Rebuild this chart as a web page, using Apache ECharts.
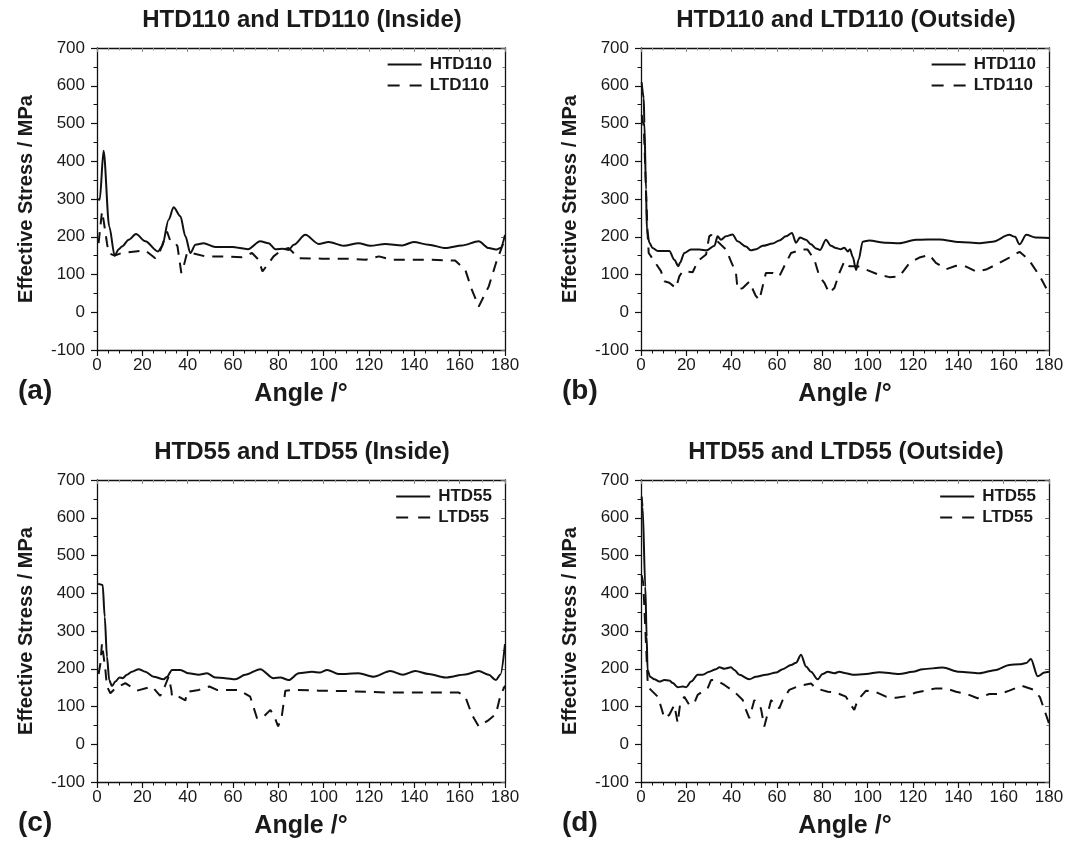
<!DOCTYPE html>
<html>
<head>
<meta charset="utf-8">
<script src="https://cdn.jsdelivr.net/npm/echarts@6/dist/echarts.min.js"></script>
<style>
html,body{margin:0;padding:0;background:#fff;}
#chart{width:1069px;height:854px;}
</style>
</head>
<body>
<div id="chart"></div>
<script>
// ---- Data: [angle (deg), effective stress (MPa)] ----
var panelTitles = ['HTD110 and LTD110 (Inside)', 'HTD110 and LTD110 (Outside)', 'HTD55 and LTD55 (Inside)', 'HTD55 and LTD55 (Outside)'];
var panelLetters = ['(a)', '(b)', '(c)', '(d)'];
var seriesNames = [['HTD110', 'LTD110'], ['HTD110', 'LTD110'], ['HTD55', 'LTD55'], ['HTD55', 'LTD55']];
var xTicks = {min: 0, max: 180, step: 20};
var yTicks = {min: -100, max: 700, step: 100};

var htd110In = [[0,300],[1.2,298],[2.9,428],[5.4,227],[7.8,150],[9.6,167],[11,174],[14,192],[17.2,207],[21.3,188],[26.9,161],[28.7,174],[31.6,245],[33.8,278],[36.8,254],[39,201],[41.2,157],[43.4,179],[47,183],[52.2,173],[59.6,173],[66.6,167],[72,188],[75.7,183],[78.7,167],[82,168],[84.6,165],[86.8,179],[91.9,205],[97.8,181],[102.2,186],[108.8,176],[115.4,183],[120.6,176],[127.2,181],[134.6,177],[139.7,186],[146.3,179],[153.7,170],[161,177],[168.4,188],[172.8,170],[176,166],[178,170],[180,205]];
var ltd110In = [[0.7,183],[2.2,267],[3,240],[4.4,183],[5.1,157],[7.8,150],[11,157],[16.9,161],[21.3,164],[25.7,143],[28,165],[30.9,214],[32.4,188],[34.6,183],[35.5,175],[37.2,104],[38.2,121],[39.7,157],[41.2,158],[47.8,148],[55.1,148],[64,146],[68.4,157],[71.3,139],[73,108],[75.7,130],[77.9,148],[81.6,165],[84.6,170],[89,143],[99.3,142],[109.6,142],[118.5,139],[124.4,148],[130,139],[138.9,139],[147.8,139],[158,137],[162.5,112],[165.4,59],[168.4,15],[172.8,68],[176,130],[180,195]];
var htd110Out = [[0.3,609],[1.2,567],[1.5,501],[2.2,325],[2.6,219],[3.7,184],[5.1,170],[7.4,162],[12.5,162],[14.7,139],[16.5,122],[17.2,131],[19.1,157],[22,166],[25.7,166],[29,164],[32.4,176],[33.8,201],[35.3,192],[37.5,201],[40.4,206],[42.6,188],[46.3,174],[48.5,164],[50.7,167],[53.7,176],[58.1,182],[61,190],[63.9,201],[66.6,210],[68.4,184],[70.1,198],[72.8,192],[75,180],[77.2,169],[79,165],[81.6,192],[83.8,176],[86,170],[88.2,167],[89.7,171],[91.2,161],[92.2,167],[93.4,147],[94.9,112],[96,139],[97.8,187],[100.7,190],[108.1,184],[114,183],[121.3,192],[131.6,193],[140.4,186],[149.3,183],[155.1,187],[162.5,205],[165,200],[167,180],[170,205],[174,198],[180,197]];
var ltd110Out = [[0.3,523],[1.2,493],[1.6,431],[2.2,325],[2.9,210],[3.4,157],[5.9,135],[8.8,109],[10.3,82],[12.5,78],[15.4,64],[16.9,95],[18.4,109],[22.8,106],[25,135],[28.7,153],[30.1,201],[31,205],[33,192],[37.5,166],[39.7,135],[41.9,104],[42.6,60],[44.9,64],[47.8,81],[50.5,45],[52.2,32],[55.1,104],[58.1,104],[61,95],[63.2,122],[66.2,157],[68.4,161],[71,166],[73.5,166],[76.5,139],[78.7,95],[80.9,78],[83,51],[85.3,64],[87.5,104],[89.7,135],[91.9,122],[95.6,122],[99.3,113],[105.1,99],[109.6,93],[114,95],[118.4,130],[122.8,145],[127.2,152],[130.1,131],[134.6,114],[139,123],[143.4,121],[147.8,108],[152.2,113],[156.6,126],[162.5,145],[167,160],[171,140],[176,95],[180,50]];
var htd55In = [[0.5,425],[1.2,424],[2.5,422],[3.4,338],[4.4,232],[5.4,170],[6.6,154],[8.1,166],[9.9,177],[11.3,175],[13.2,184],[15.4,192],[18.4,199],[21.3,192],[25,179],[29.4,172],[30.9,179],[33.1,197],[36.8,197],[40.4,188],[44.9,184],[48.5,188],[52.2,177],[56.6,175],[61,172],[65.4,184],[72,199],[77.9,175],[80.9,177],[84.6,170],[89,188],[94.9,192],[98.5,190],[101.5,197],[106.6,186],[115.4,188],[122,179],[129.4,194],[134.9,184],[140.4,194],[146.3,186],[153.7,177],[162.5,185],[168.4,194],[172.8,184],[176,170],[178,185],[180,265]];
var ltd55In = [[0.7,186],[1.5,214],[2.2,267],[2.9,267],[3.7,197],[4.4,153],[5.9,135],[8.1,148],[12.5,162],[17.6,142],[24.3,153],[27.9,128],[29.9,153],[31.6,179],[32.8,144],[33.1,126],[36,126],[39,116],[39.7,139],[44.9,144],[49.6,153],[52.9,144],[62.5,144],[67.6,126],[70.6,69],[73,70],[76.5,91],[78.5,70],[79.9,47],[81.5,73],[83.1,142],[88.2,144],[97.8,142],[109.6,141],[118.4,139],[127.2,137],[138.9,137],[149.3,137],[159.6,137],[162.5,126],[165.4,78],[168.4,47],[172.8,64],[176,80],[178,130],[180,155]];
var htd55Out = [[0.3,656],[0.7,629],[1.9,417],[2.5,285],[2.9,197],[4,179],[5.9,172],[8.1,166],[10.3,170],[12.5,169],[14,162],[16.2,151],[18.4,153],[19.9,151],[22.1,166],[25,184],[27.2,184],[30.1,192],[33.1,199],[34.6,204],[36.8,200],[39.7,204],[41.2,197],[43.4,184],[47.8,172],[50.7,179],[55.1,184],[59.6,190],[62.5,199],[66.2,210],[68.4,216],[70.6,237],[72.8,206],[75,192],[77.9,172],[80.1,186],[82.4,192],[85.3,188],[87.5,192],[90.4,188],[93.4,184],[99.3,186],[105.1,191],[113.9,186],[119.9,192],[124.3,199],[133.1,203],[140.4,192],[149.3,188],[156.6,197],[162.5,210],[167,212],[170,215],[172,226],[175,180],[178,190],[180,192]];
var ltd55Out = [[0.3,448],[1,426],[2.2,267],[2.9,170],[3.7,148],[7.4,126],[8.8,100],[10.3,69],[12.5,78],[14.7,104],[16.2,56],[17.2,104],[19.1,126],[21.3,104],[23.5,109],[25,131],[29.4,148],[30.9,170],[33.1,170],[36.8,157],[41.2,139],[44.9,117],[46.3,91],[47.8,69],[50,117],[52.9,95],[54.4,47],[57.4,117],[61,95],[62.5,117],[65.4,144],[69.9,155],[75,161],[77.2,148],[82.4,139],[86,137],[90.4,126],[92.6,104],[94.1,91],[95.6,117],[99.3,142],[103.7,138],[108.1,126],[112.5,123],[116.9,127],[121.3,137],[130.1,148],[134.6,148],[139,139],[143.4,134],[148.5,122],[153.7,133],[158.1,133],[162.5,142],[168,155],[173,145],[176,125],[180,55]];

var panelData = [[htd110In, ltd110In], [htd110Out, ltd110Out], [htd55In, ltd55In], [htd55Out, ltd55Out]];

// ---- Layout ----
var W = 1069;
var FONT = 'Liberation Sans, Arial, Helvetica, sans-serif';
var TXT = '#1a1a1a';
var grids = [
  {left: 97, top: 48, width: 408, height: 302},
  {left: 641, top: 48, width: 408, height: 302},
  {left: 97, top: 480, width: 408, height: 302},
  {left: 641, top: 480, width: 408, height: 302}
];

var option = {
  backgroundColor: '#fff',
  animation: false,
  textStyle: {fontFamily: FONT},
  grid: [], xAxis: [], yAxis: [], series: [], title: [], legend: [], graphic: []
};

var axisLine = {show: true, onZero: false, lineStyle: {color: '#111', width: 1.3}};

grids.forEach(function (g, i) {
  option.grid.push({left: g.left, top: g.top, width: g.width, height: g.height, containLabel: false});
  option.xAxis.push({
    gridIndex: i, type: 'value', position: 'bottom',
    min: xTicks.min, max: xTicks.max, interval: xTicks.step,
    name: 'Angle /°', nameLocation: 'middle', nameGap: 32,
    nameTextStyle: {fontFamily: FONT, fontSize: 25, fontWeight: 'bold', color: TXT},
    axisLine: axisLine,
    axisTick: {show: true, inside: false, length: 6, lineStyle: {color: '#111', width: 1.2}},
    minorTick: {show: true, splitNumber: 4, length: 3.5, lineStyle: {color: '#111', width: 1}},
    axisLabel: {fontFamily: FONT, fontSize: 17, color: TXT, margin: 7},
    splitLine: {show: false}
  });
  option.xAxis.push({
    gridIndex: i, type: 'value', position: 'top',
    min: xTicks.min, max: xTicks.max, interval: xTicks.step,
    axisLine: axisLine,
    axisTick: {show: true, inside: true, length: 4, lineStyle: {color: '#888', width: 1}},
    minorTick: {show: true, splitNumber: 4, length: 2.5, lineStyle: {color: '#999', width: 1}},
    axisLabel: {show: false},
    splitLine: {show: false}
  });
  option.yAxis.push({
    gridIndex: i, type: 'value', position: 'left',
    min: yTicks.min, max: yTicks.max, interval: yTicks.step,
    name: 'Effective Stress / MPa', nameLocation: 'middle', nameGap: 61, nameRotate: 90,
    nameTextStyle: {fontFamily: FONT, fontSize: 20, fontWeight: 'bold', color: TXT},
    axisLine: axisLine,
    axisTick: {show: true, inside: false, length: 6, lineStyle: {color: '#111', width: 1.2}},
    minorTick: {show: true, splitNumber: 2, length: 3.5, lineStyle: {color: '#111', width: 1}},
    axisLabel: {fontFamily: FONT, fontSize: 17, color: TXT, margin: 12},
    splitLine: {show: false}
  });
  option.yAxis.push({
    gridIndex: i, type: 'value', position: 'right',
    min: yTicks.min, max: yTicks.max, interval: yTicks.step,
    axisLine: axisLine,
    axisTick: {show: true, inside: true, length: 4, lineStyle: {color: '#666', width: 1}},
    minorTick: {show: true, splitNumber: 2, length: 2.5, lineStyle: {color: '#777', width: 1}},
    axisLabel: {show: false},
    splitLine: {show: false}
  });

  var names = seriesNames[i];
  option.series.push({
    name: names[0], type: 'line', xAxisIndex: i * 2, yAxisIndex: i * 2,
    data: panelData[i][0], showSymbol: false, symbol: 'none',
    smooth: 0.3, smoothMonotone: 'x',
    lineStyle: {color: '#111', width: 2, type: 'solid'}, itemStyle: {color: '#111'}
  });
  option.series.push({
    name: names[1], type: 'line', xAxisIndex: i * 2, yAxisIndex: i * 2,
    data: panelData[i][1], showSymbol: false, symbol: 'none',
    lineStyle: {color: '#111', width: 2, type: [11, 8]}, itemStyle: {color: '#111'}
  });

  option.title.push({
    text: panelTitles[i], left: g.left + g.width / 2 - 4, top: g.top - 45, textAlign: 'center',
    textStyle: {fontFamily: FONT, fontSize: 24, fontWeight: 'bold', color: TXT}
  });

  option.legend.push({
    data: [
      {name: names[0]},
      {name: names[1], lineStyle: {type: [12, 10], width: 2}}
    ],
    orient: 'vertical', align: 'left',
    right: W - (g.left + g.width) + 13, top: g.top + 8,
    itemWidth: 34, itemHeight: 14, itemGap: 4, padding: 0,
    selectedMode: false,
    itemStyle: {opacity: 0, borderWidth: 0},
    textStyle: {fontFamily: FONT, fontSize: 17, fontWeight: 'bold', color: TXT, padding: [0, 0, 0, 3]}
  });

  option.graphic.push({
    type: 'text', left: g.left - 79, top: g.top + g.height + 27,
    style: {text: panelLetters[i], font: 'bold 28px ' + FONT, fill: TXT}
  });
});

var chart = echarts.init(document.getElementById('chart'), null, {renderer: 'canvas'});
chart.setOption(option);
</script>
</body>
</html>
